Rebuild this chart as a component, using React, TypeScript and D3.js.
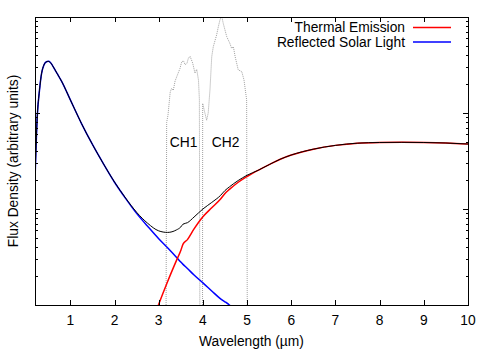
import { useEffect, useRef } from "react";
import * as d3 from "d3";

// wavelength grid (µm) shared by both flux components
const wavelength = [
  0.2, 0.25, 0.3, 0.35, 0.4, 0.45, 0.5, 0.55, 0.6, 0.7, 0.8, 1.0, 1.25, 1.5,
  1.75, 2.0, 2.25, 2.5, 2.75, 3.0, 3.2, 3.4, 3.5, 3.55, 3.65, 3.8, 4.0, 4.2,
  4.4, 4.5, 4.6, 4.8, 5.0, 5.25, 5.5, 5.75, 6.0, 6.5, 7.0, 7.5, 8.0, 8.5, 9.0,
  9.5, 10.0,
];
const reflected = [
  20, 90, 170, 260, 315, 340, 345, 335, 310, 258, 215, 137, 78, 47, 29.5, 19,
  12.9, 9.0, 6.6, 4.9, 3.95, 3.15, 2.8, 2.65, 2.4, 2.05, 1.7, 1.4, 1.16, 1.08,
  1.0, 0.82, 0.67, null, null, null, null, null, null, null, null, null, null,
  null, null,
];
const thermal = [
  null, null, null, null, null, null, null, null, null, null, null, null, null,
  null, null, 0.06, 0.12, 0.25, 0.5, 1.02, 1.75, 2.9, 3.7, 4.3, 4.8, 6.2, 8.3,
  10.3, 12.7, 14.5, 16.0, 19.0, 21.8, 25.3, 29, 33, 36.5, 42, 46, 48.5, 49.3,
  49.5, 49.3, 48.7, 47.5,
];

// channel spectral responses (same arbitrary units)
const ch1Wavelength = [
  3.16, 3.18, 3.21, 3.26, 3.29, 3.33, 3.37, 3.41, 3.48, 3.52, 3.56, 3.6, 3.64,
  3.67, 3.71, 3.77, 3.82, 3.86, 3.9, 3.92, 3.935,
];
const ch1Response = [
  0.1, 80, 95, 165, 180, 172, 215, 240, 290, 340, 350, 318, 330, 370, 390, 330,
  260, 285, 220, 140, 0.1,
];
const ch2Wavelength = [
  3.99, 3.995, 4.03, 4.085, 4.12, 4.16, 4.2, 4.235, 4.31, 4.35, 4.386, 4.425,
  4.46, 4.54, 4.61, 4.65, 4.69, 4.73, 4.8, 4.88, 4.93, 4.99, 5.01,
];
const ch2Response = [
  0.1, 126, 107, 84, 100, 174, 386, 490, 649, 794, 930, 1030, 860, 623, 532,
  472, 490, 386, 281, 270, 221, 137, 0.1,
];

const channelNames = ["CH1", "CH2"];
const channelLabelX = [3.25, 4.2];
const channelLabelY = [44, 44];

const xTicks = [1, 2, 3, 4, 5, 6, 7, 8, 9, 10];
const legendLabels = ["Thermal Emission", "Reflected Solar Light"];
const legendColors = ["#ff0000", "#0000ff"];

const W = 500;
const H = 350;
const FONT = "'Liberation Sans', Arial, Helvetica, sans-serif";
const FS = 13.8;

export default function App() {
  const svgElem = useRef(null);

  useEffect(() => {
    const svg = d3.select(svgElem.current);
    svg.selectAll("*").remove();

    const left = 35,
      right = 468,
      top = 17,
      bottom = 305;

    const x = d3.scaleLinear().domain([0.2, 10]).range([left, right]);
    const y = d3.scaleLog().domain([1, 1000]).range([bottom, top]);

    svg
      .append("defs")
      .append("clipPath")
      .attr("id", "plot-clip")
      .append("rect")
      .attr("x", left)
      .attr("y", top)
      .attr("width", right - left)
      .attr("height", bottom - top);

    const plot = svg.append("g").attr("clip-path", "url(#plot-clip)");

    const line = d3
      .line()
      .defined((d) => d[1] != null && d[1] > 0)
      .x((d) => x(d[0]))
      .y((d) => y(d[1]));

    // channel responses, dotted grey
    [
      [ch1Wavelength, ch1Response],
      [ch2Wavelength, ch2Response],
    ].forEach(([wl, r]) => {
      plot
        .append("path")
        .datum(wl.map((w, i) => [w, r[i]]))
        .attr("fill", "none")
        .attr("stroke", "#a0a0a0")
        .attr("stroke-width", 1)
        .attr("stroke-dasharray", "1,1")
        .attr("d", line);
    });

    const smooth = d3
      .line()
      .defined((d) => d[1] != null && d[1] > 0)
      .x((d) => x(d[0]))
      .y((d) => y(d[1]))
      .curve(d3.curveMonotoneX);
    const total = wavelength.map(
      (w, i) => [w, (thermal[i] ?? 0) + (reflected[i] ?? 0)]
    );

    plot
      .append("path")
      .datum(wavelength.map((w, i) => [w, reflected[i]]))
      .attr("fill", "none")
      .attr("stroke", legendColors[1])
      .attr("stroke-width", 1.5)
      .attr("d", smooth);

    plot
      .append("path")
      .datum(wavelength.map((w, i) => [w, thermal[i]]))
      .attr("fill", "none")
      .attr("stroke", legendColors[0])
      .attr("stroke-width", 1.5)
      .attr("d", smooth);

    plot
      .append("path")
      .datum(total)
      .attr("fill", "none")
      .attr("stroke", "#000")
      .attr("stroke-width", 1)
      .attr("d", smooth);

    // channel labels
    svg
      .append("g")
      .selectAll("text")
      .data(channelNames)
      .join("text")
      .attr("x", (d, i) => x(channelLabelX[i]))
      .attr("y", (d, i) => y(channelLabelY[i]))
      .attr("font-family", FONT)
      .attr("font-size", FS)
      .text((d) => d);

    // ticks (mirrored on all sides, inward)
    const ticks = svg
      .append("g")
      .attr("stroke", "#000")
      .attr("stroke-width", 1)
      .attr("shape-rendering", "crispEdges");

    xTicks.forEach((t) => {
      const px = Math.round(x(t)) + 0.5;
      ticks.append("line").attr("x1", px).attr("x2", px).attr("y1", bottom).attr("y2", bottom - 5);
      ticks.append("line").attr("x1", px).attr("x2", px).attr("y1", top).attr("y2", top + 5);
    });

    const yMajor = [10, 100];
    const yMinor = [];
    [1, 10, 100].forEach((dec) => {
      for (let k = 2; k <= 9; k++) yMinor.push(dec * k);
    });
    yMajor.forEach((v) => {
      const py = Math.round(y(v)) + 0.5;
      ticks.append("line").attr("x1", left).attr("x2", left + 5).attr("y1", py).attr("y2", py);
      ticks.append("line").attr("x1", right).attr("x2", right - 5).attr("y1", py).attr("y2", py);
    });
    yMinor.forEach((v) => {
      const py = Math.round(y(v)) + 0.5;
      ticks.append("line").attr("x1", left).attr("x2", left + 2.5).attr("y1", py).attr("y2", py);
      ticks.append("line").attr("x1", right).attr("x2", right - 2.5).attr("y1", py).attr("y2", py);
    });

    // frame
    svg
      .append("rect")
      .attr("x", left)
      .attr("y", top)
      .attr("width", right - left)
      .attr("height", bottom - top)
      .attr("fill", "none")
      .attr("stroke", "#000")
      .attr("stroke-width", 1)
      .attr("shape-rendering", "crispEdges");

    // x tick labels
    svg
      .append("g")
      .selectAll("text")
      .data(xTicks)
      .join("text")
      .attr("x", (d) => x(d))
      .attr("y", 324.5)
      .attr("text-anchor", "middle")
      .attr("font-family", FONT)
      .attr("font-size", FS)
      .text((d) => d);

    svg
      .append("text")
      .attr("x", (left + right) / 2)
      .attr("y", 345.5)
      .attr("text-anchor", "middle")
      .attr("font-family", FONT)
      .attr("font-size", FS)
      .text("Wavelength (\u00b5m)");

    svg
      .append("text")
      .attr("transform", `translate(17.5,${(top + bottom) / 2}) rotate(-90)`)
      .attr("text-anchor", "middle")
      .attr("font-family", FONT)
      .attr("font-size", FS)
      .text("Flux Density (arbitrary units)");

    // legend
    const legend = svg.append("g");
    legendLabels.forEach((lab, i) => {
      const base = 32 + i * 14.5;
      legend
        .append("text")
        .attr("x", 405)
        .attr("y", base)
        .attr("text-anchor", "end")
        .attr("font-family", FONT)
        .attr("font-size", FS)
        .text(lab);
      legend
        .append("line")
        .attr("x1", 413)
        .attr("x2", 451)
        .attr("y1", base - 4.5)
        .attr("y2", base - 4.5)
        .attr("stroke", legendColors[i])
        .attr("stroke-width", 1.5);
    });
  }, []);

  return (
    <svg
      ref={svgElem}
      width={W}
      height={H}
      style={{ position: "absolute", left: 0, top: 0, background: "#fff" }}
    ></svg>
  );
}
